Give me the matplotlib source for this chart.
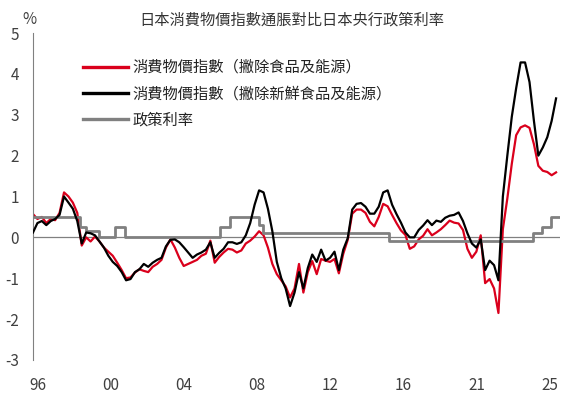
import matplotlib.pyplot as plt
from matplotlib.lines import Line2D
import pandas as pd

plt.rcParams['font.family'] = ['Noto Sans CJK TC', 'DejaVu Sans']
plt.rcParams['axes.unicode_minus'] = False

# quarterly readings, 1996Q1 .. 2025Q3
quarters = pd.date_range('1996-01-01', '2025-07-01', freq='QS')

# CPI ex food & energy (red)
cpi_ex_food_energy = [
    0.57, 0.45, 0.50, 0.35, 0.45, 0.42, 0.60, 1.10, 1.00, 0.85, 0.60, -0.20,
    0.00, -0.10, 0.02, -0.10, -0.25, -0.35, -0.45, -0.62, -0.80, -1.00, -0.98, -0.86,
    -0.78, -0.82, -0.85, -0.72, -0.65, -0.55, -0.25, -0.05, -0.25, -0.50, -0.70, -0.65,
    -0.60, -0.55, -0.45, -0.40, -0.08, -0.62, -0.48, -0.37, -0.28, -0.30, -0.37, -0.32,
    -0.15, -0.08, 0.02, 0.15, 0.05, -0.25, -0.65, -0.90, -1.05, -1.20, -1.47, -1.25,
    -0.65, -1.35, -0.85, -0.58, -0.90, -0.53, -0.57, -0.60, -0.53, -0.88, -0.40, -0.06,
    0.58, 0.68, 0.68, 0.60, 0.38, 0.27, 0.50, 0.82, 0.76, 0.55, 0.35, 0.17,
    0.06, -0.28, -0.22, -0.05, 0.04, 0.20, 0.05, 0.12, 0.20, 0.30, 0.41, 0.36,
    0.34, 0.18, -0.28, -0.50, -0.35, 0.05, -1.12, -1.02, -1.25, -1.85, 0.20, 0.95,
    1.80, 2.50, 2.69, 2.74, 2.68, 2.28, 1.75, 1.63, 1.60, 1.52, 1.59,
]

# CPI ex fresh food & energy (black)
cpi_ex_fresh_food_energy = [
    0.12, 0.35, 0.40, 0.30, 0.40, 0.45, 0.55, 1.00, 0.85, 0.70, 0.40, -0.15,
    0.12, 0.10, 0.05, -0.10, -0.25, -0.45, -0.60, -0.70, -0.85, -1.05, -1.02, -0.85,
    -0.78, -0.65, -0.72, -0.62, -0.55, -0.50, -0.22, -0.06, -0.05, -0.12, -0.24, -0.37,
    -0.50, -0.42, -0.37, -0.30, -0.12, -0.50, -0.38, -0.28, -0.12, -0.12, -0.16, -0.12,
    0.05, 0.35, 0.80, 1.15, 1.10, 0.70, 0.15, -0.60, -1.00, -1.25, -1.68, -1.35,
    -0.85, -1.25, -0.75, -0.42, -0.60, -0.30, -0.57, -0.50, -0.35, -0.80, -0.30, -0.02,
    0.68, 0.82, 0.84, 0.75, 0.58, 0.58, 0.75, 1.10, 1.15, 0.80, 0.57, 0.36,
    0.12, 0.00, 0.00, 0.18, 0.29, 0.42, 0.30, 0.41, 0.38, 0.48, 0.53, 0.55,
    0.61, 0.40, 0.10, -0.15, -0.25, -0.05, -0.80, -0.57, -0.68, -1.05, 1.00, 2.00,
    2.95, 3.65, 4.28, 4.28, 3.80, 2.85, 2.00, 2.20, 2.45, 2.85, 3.40,
]

# BOJ policy rate changes
rate_dates = pd.to_datetime([
    '1996-01-01', '1998-09-01', '1999-01-01', '1999-10-01', '2000-08-15',
    '2001-03-01', '2006-07-15', '2007-02-20', '2008-10-01', '2008-12-15',
    '2016-01-20', '2024-03-15', '2024-09-20', '2025-03-15', '2025-09-01',
])
rate_levels = [0.5, 0.25, 0.15, 0.0, 0.25, 0.0, 0.25, 0.5, 0.3, 0.1,
               -0.1, 0.1, 0.25, 0.5, 0.5]

tick_dates = pd.to_datetime(['1996-04-15', '2000-05-20', '2004-07-10', '2008-08-25',
                             '2012-10-10', '2016-11-25', '2021-01-05', '2025-02-20'])
tick_labels = ['96', '00', '04', '08', '12', '16', '21', '25']

labels = ['消費物價指數（撇除食品及能源）', '消費物價指數（撇除新鮮食品及能源）', '政策利率']
RED = '#DA001C'
GRAY = '#808080'
TEXT = '#404040'

fig = plt.figure(figsize=(5.7, 3.95), dpi=100)
ax = fig.add_axes([33 / 570, 35 / 395, 527 / 570, 327 / 395])

ax.axhline(0, color=GRAY, lw=0.9, zorder=1)
ax.plot(quarters, cpi_ex_food_energy, color=RED, lw=1.6, zorder=2)
ax.plot(rate_dates, rate_levels, color=GRAY, lw=2.0, drawstyle='steps-post', zorder=3)
ax.plot(quarters, cpi_ex_fresh_food_energy, color='black', lw=1.6, zorder=4)

ax.set_ylim(-3, 5)
ax.set_xlim(pd.Timestamp('1996-01-01'), pd.Timestamp('2025-09-20'))
ax.set_yticks(range(-3, 6))
ax.set_xticks(tick_dates)
ax.set_xticklabels(tick_labels)
ax.tick_params(length=0, labelsize=11, colors=TEXT)
ax.tick_params(axis='y', pad=10)
ax.tick_params(axis='x', pad=12)

for side in ['top', 'right', 'bottom']:
    ax.spines[side].set_visible(False)
ax.spines['left'].set_color(GRAY)
ax.spines['left'].set_linewidth(0.8)

fig.text(29 / 570, 1 - 20 / 395, '%', ha='center', va='center', fontsize=11, color=TEXT)
fig.text(292 / 570, 1 - 20 / 395, '日本消費物價指數通脹對比日本央行政策利率',
         ha='center', va='center', fontsize=11, color='#333333')

handles = [Line2D([], [], color=RED, lw=2.4),
           Line2D([], [], color='black', lw=2.4),
           Line2D([], [], color=GRAY, lw=2.4)]
fig.legend(handles, labels, loc='upper left', bbox_to_anchor=(83 / 570, 1 - 59 / 395),
           frameon=False, fontsize=11, handlelength=2.95, handletextpad=0.3,
           labelspacing=0.6, borderpad=0, borderaxespad=0, labelcolor='#222222')

fig.savefig('out.png', dpi=100)
